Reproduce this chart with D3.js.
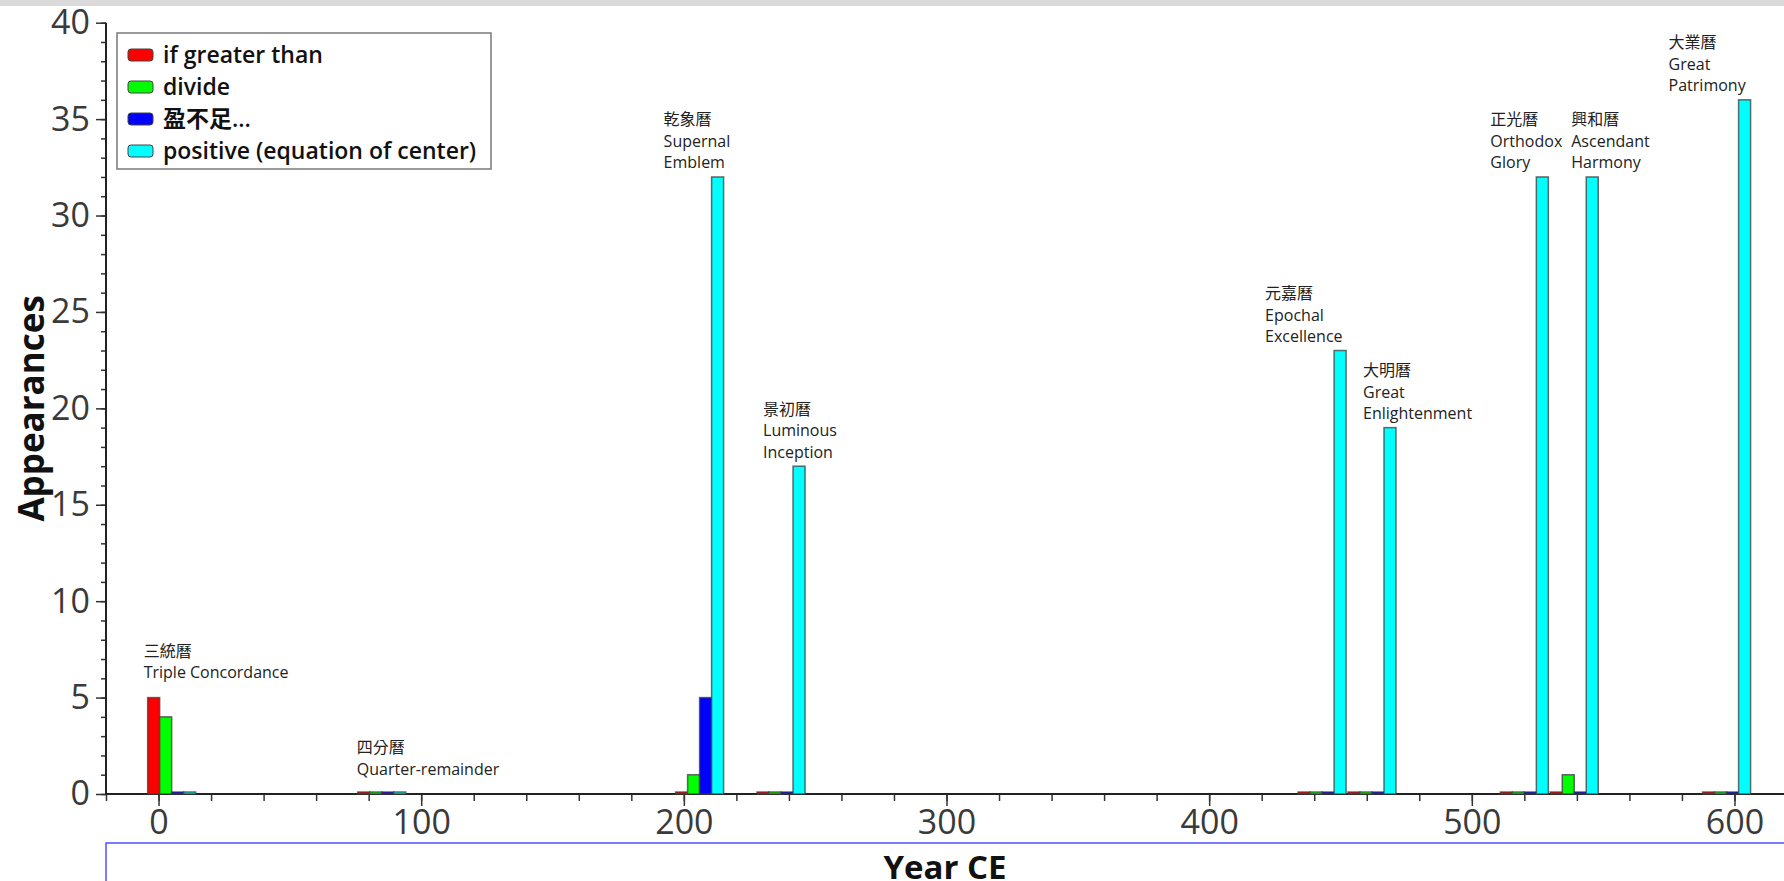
<!DOCTYPE html>
<html>
<head>
<meta charset="utf-8">
<script src="https://cdn.jsdelivr.net/npm/d3@7"></script>
<style>
  html, body { margin: 0; padding: 0; background: #fff; overflow: hidden; }
  svg { display: block; }
</style>
</head>
<body>
<div id="chart"></div>
<script>
// calendars, plotted at their year
const years = [5, 85, 206, 237, 443, 462, 520, 539, 597];
const calNames = ['三統曆', '四分曆', '乾象曆', '景初曆', '元嘉曆', '大明曆', '正光曆', '興和曆', '大業曆'];
const calEnglish = [
  ['Triple Concordance'],
  ['Quarter-remainder'],
  ['Supernal', 'Emblem'],
  ['Luminous', 'Inception'],
  ['Epochal', 'Excellence'],
  ['Great', 'Enlightenment'],
  ['Orthodox', 'Glory'],
  ['Ascendant', 'Harmony'],
  ['Great', 'Patrimony']
];

// appearances per term
const seriesNames = ['if greater than', 'divide', '盈不足...', 'positive (equation of center)'];
const ifGreaterThan = [5, 0, 0, 0, 0, 0, 0, 0, 0];
const divide = [4, 0, 1, 0, 0, 0, 0, 1, 0];
const yingBuZu = [0, 0, 5, 0, 0, 0, 0, 0, 0];
const positive = [0, 0, 32, 17, 23, 19, 32, 32, 36];

const yMajorTicks = [0, 5, 10, 15, 20, 25, 30, 35, 40];
const xMajorTicks = [0, 100, 200, 300, 400, 500, 600];

// layout
const width = 1784, height = 881;
const colors = ['#ff0000', '#00ff00', '#0000ff', '#00ffff'];
const labelDx = [-28, -25, -36, -18, -57, -9, -34, -3, -58];
const tickFont = '"Open Sans", sans-serif';
const cjkFont = '"Open Sans", "Noto Sans CJK TC", sans-serif';

const svg = d3.select('#chart').append('svg')
  .attr('width', width)
  .attr('height', height);

// textured strip at the very top
svg.append('rect')
  .attr('x', 0).attr('y', 0)
  .attr('width', width).attr('height', 6)
  .attr('fill', '#dadada');

const xScale = d3.scaleLinear()
  .domain([-20, 620])
  .range([106, 1787]);

const yScale = d3.scaleLinear()
  .domain([0, 40])
  .range([794, 22.7]);

const seriesValues = [ifGreaterThan, divide, yingBuZu, positive];
const sub = d3.scaleBand()
  .domain(d3.range(seriesNames.length))
  .range([-24, 24]);

// axes
const yAxisMinor = d3.axisLeft(yScale).tickValues(d3.range(0, 41, 1)).tickSize(5).tickFormat('');
const yAxis = d3.axisLeft(yScale).tickValues(yMajorTicks).tickSize(10).tickPadding(6);
const xAxisMinor = d3.axisBottom(xScale).tickValues(d3.range(-20, 621, 20)).tickSize(7).tickFormat('');
const xAxis = d3.axisBottom(xScale).tickValues(xMajorTicks).tickSize(12).tickPadding(4);

function styleAxis(g) {
  g.select('.domain').remove();
  g.selectAll('.tick line').attr('stroke', '#333').attr('stroke-width', 1.5);
  g.selectAll('.tick text')
    .attr('fill', '#3a3a3a')
    .style('font-family', tickFont)
    .style('font-size', '34px');
}

svg.append('g').attr('transform', 'translate(106,0)').call(yAxisMinor).call(styleAxis);
svg.append('g').attr('transform', 'translate(106,0)').call(yAxis).call(styleAxis);
svg.append('g').attr('transform', 'translate(0,794)').call(xAxisMinor).call(styleAxis);
svg.append('g').attr('transform', 'translate(0,794)').call(xAxis).call(styleAxis);

svg.append('line')
  .attr('x1', 106).attr('x2', 106)
  .attr('y1', yScale(40)).attr('y2', yScale(0))
  .attr('stroke', '#222').attr('stroke-width', 2);
svg.append('line')
  .attr('x1', 106).attr('x2', width)
  .attr('y1', yScale(0)).attr('y2', yScale(0))
  .attr('stroke', '#222').attr('stroke-width', 2);

// bars
const groups = svg.selectAll('.cal')
  .data(years)
  .enter()
  .append('g')
  .attr('class', 'cal')
  .attr('transform', d => `translate(${xScale(d)},0)`);

groups.each(function(year, i) {
  const g = d3.select(this);
  seriesValues.forEach((vals, s) => {
    const v = vals[i];
    const h = Math.max(yScale(0) - yScale(v), 2);
    g.append('rect')
      .attr('x', sub(s))
      .attr('width', sub.bandwidth())
      .attr('y', yScale(0) - h)
      .attr('height', h)
      .attr('fill', colors[s])
      .attr('stroke', 'rgba(60,60,60,0.75)')
      .attr('stroke-width', 1.5);
  });
});

// calendar labels, centred vertically above the tallest bar
groups.each(function(year, i) {
  const g = d3.select(this);
  const top = yScale(d3.max(seriesValues, vals => vals[i]));
  const lines = [calNames[i]].concat(calEnglish[i]);
  const n = lines.length;
  const text = g.append('text')
    .attr('x', labelDx[i])
    .attr('fill', '#222')
    .style('font-family', cjkFont)
    .style('font-size', '16px');
  lines.forEach((t, k) => {
    text.append('tspan')
      .attr('x', labelDx[i])
      .attr('y', top - 30 + (k - (n - 1) / 2) * 21.5)
      .text(t);
  });
});

// legend
const legend = svg.append('g').attr('transform', 'translate(117,33)');
legend.append('rect')
  .attr('width', 374).attr('height', 136)
  .attr('fill', '#fff')
  .attr('stroke', '#7a7a7a')
  .attr('stroke-width', 1.5);
seriesNames.forEach((name, s) => {
  const cy = 22 + s * 32;
  legend.append('rect')
    .attr('x', 11).attr('y', cy - 6)
    .attr('width', 25).attr('height', 12)
    .attr('rx', 3)
    .attr('fill', colors[s])
    .attr('stroke', '#444').attr('stroke-width', 1);
  legend.append('text')
    .attr('x', 46).attr('y', cy)
    .attr('dy', '0.35em')
    .attr('fill', '#111')
    .style('font-family', cjkFont)
    .style('font-weight', 600)
    .style('font-size', '23px')
    .text(name);
});

// axis titles
svg.append('rect')
  .attr('x', 106).attr('y', 843)
  .attr('width', 1700).attr('height', 60)
  .attr('fill', 'none')
  .attr('stroke', '#5050ff')
  .attr('stroke-width', 1.5);

svg.append('text')
  .attr('x', (106 + width) / 2)
  .attr('y', 879)
  .attr('text-anchor', 'middle')
  .attr('fill', '#111')
  .style('font-family', tickFont)
  .style('font-weight', 700)
  .style('font-size', '33px')
  .text('Year CE');

svg.append('text')
  .attr('transform', `translate(44,${(yScale(0) + yScale(40)) / 2}) rotate(-90)`)
  .attr('text-anchor', 'middle')
  .attr('fill', '#111')
  .style('font-family', tickFont)
  .style('font-weight', 700)
  .style('font-size', '35px')
  .text('Appearances');
</script>
</body>
</html>
